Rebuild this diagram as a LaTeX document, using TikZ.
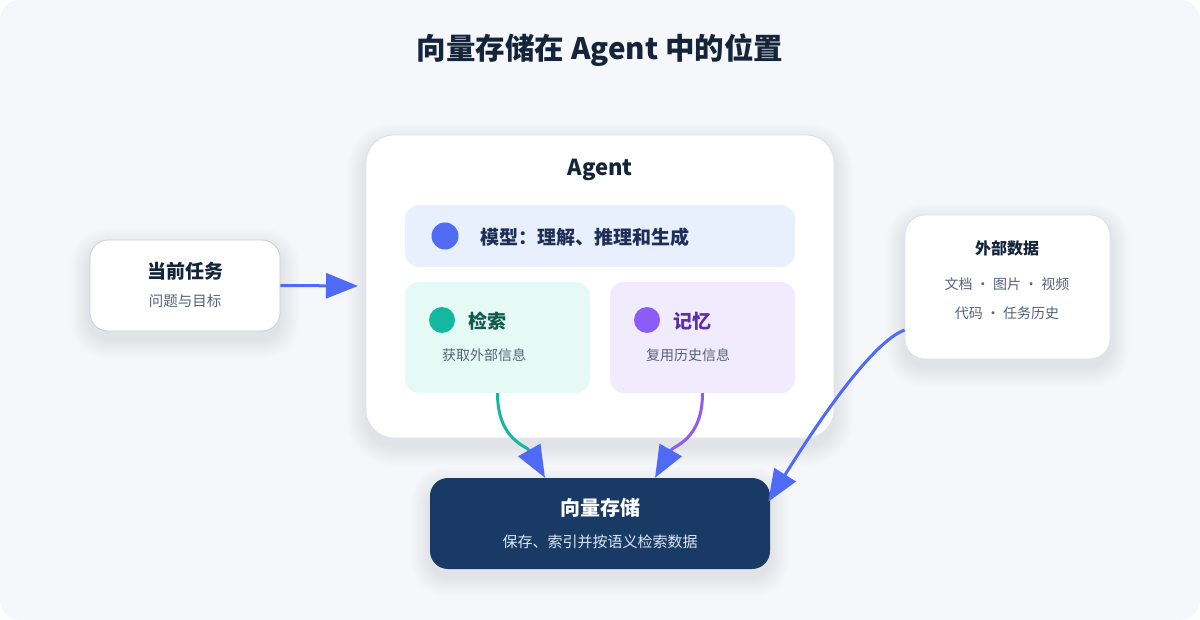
\documentclass[tikz,border=0pt]{standalone}
\usepackage{fontspec}
\setmainfont{Noto Sans CJK SC}
\usetikzlibrary{arrows.meta,calc}
\definecolor{bgc}{HTML}{F5F7FB}
\definecolor{ink}{HTML}{14243A}
\definecolor{subink}{HTML}{56627A}
\definecolor{ablue}{HTML}{4F6BF6}
\definecolor{ateal}{HTML}{14B8A0}
\definecolor{apurple}{HTML}{8B5CF6}
\definecolor{modelbg}{HTML}{E8EFFD}
\definecolor{retbg}{HTML}{E6FAF5}
\definecolor{membg}{HTML}{F1EBFE}
\definecolor{navy}{HTML}{183A64}
\definecolor{modelink}{HTML}{1E2F57}
\definecolor{retink}{HTML}{0F5A4E}
\definecolor{memink}{HTML}{5B2FA6}
\definecolor{vsub}{HTML}{DCE6F5}
\definecolor{edge}{HTML}{DDE2EA}
\pgfdeclarelayer{base}
\pgfdeclarelayer{shade}
\pgfsetlayers{base,shade,main}
\tikzset{
  card/.style={draw=edge, line width=0.8pt, fill=white, rounded corners=#1},
  panel/.style={fill=#1, rounded corners=14pt, inner sep=0pt},
  dot/.style={circle, fill=#1, minimum size=27pt, inner sep=0pt},
  head/.style={font=\fontsize{19}{21}\selectfont\bfseries, inner sep=0pt},
  sub/.style={font=\fontsize{14}{16}\selectfont, text=subink, inner sep=0pt},
  flow/.style={line width=3pt, -{Triangle[length=32pt,width=25pt,color=ablue]}},
  shadowlayer/.style={fill=black, opacity=0.007},
}
% soft shadow behind a named node: #1 node, #2 corner radius
\newcommand{\softshade}[2]{%
  \begin{pgfonlayer}{shade}
  \foreach \r in {1,3,...,19}{
    \fill[shadowlayer, rounded corners=#2+\r]
      ($(#1.north west)+(-\r,-\r+8)$) rectangle ($(#1.south east)+(\r,\r+8)$);
  }
  \end{pgfonlayer}}
\begin{document}
\begin{tikzpicture}[x=1pt,y=-1pt]
\useasboundingbox (0,0) rectangle (1200,620);
\begin{pgfonlayer}{base}
\fill[white] (0,0) rectangle (1200,620);
\fill[bgc, rounded corners=20pt] (0,0) rectangle (1200,620);
\end{pgfonlayer}

% title
\node[font=\fontsize{29.5}{32}\selectfont\bfseries, text=ink] (title) at (600,50) {向量存储在 Agent 中的位置};

% agent container
\node[card=28pt, minimum width=468pt, minimum height=303pt] (agent) at (600,286.5) {};
\softshade{agent}{28pt}
\node[font=\fontsize{22}{24}\selectfont\bfseries, text=ink] (agentlbl) at (600,170) {Agent};

% model panel
\node[panel=modelbg, minimum width=390pt, minimum height=62pt] (model) at (600,236) {};
\node[dot=ablue] (mdot) at (445,236) {};
\node[head, text=modelink, anchor=west] (mtext) at (480,237) {模型：理解、推理和生成};

% retrieval panel
\node[panel=retbg, minimum width=185pt, minimum height=111pt] (ret) at (497.5,337.5) {};
\node[dot=ateal, minimum size=26pt] (rdot) at (442,320) {};
\node[head, text=retink, anchor=west] (rtext) at (468,321) {检索};
\node[sub] (rsub) at (484,355) {获取外部信息};

% memory panel
\node[panel=membg, minimum width=185pt, minimum height=111pt] (mem) at (702.5,337.5) {};
\node[dot=apurple, minimum size=26pt] (memdot) at (647,320) {};
\node[head, text=memink, anchor=west] (memtext) at (673,321) {记忆};
\node[sub] (memsub) at (688,355) {复用历史信息};

% current task
\node[card=18pt, draw=edge!80!gray, minimum width=190pt, minimum height=91pt] (task) at (185,285.5) {};
\softshade{task}{18pt}
\node[head, text=ink] (tasklbl) at (185,271) {当前任务};
\node[sub, font=\fontsize{14.5}{16}\selectfont] (tasksub) at (185,301) {问题与目标};

% external data
\node[card=20pt, minimum width=205pt, minimum height=144pt] (ext) at (1007.5,287) {};
\softshade{ext}{20pt}
\node[font=\fontsize{16}{18}\selectfont\bfseries, text=ink, inner sep=0pt] (extlbl) at (1007,248) {外部数据};
\node[font=\fontsize{14}{16}\selectfont, text=subink, inner sep=0pt] (ext1) at (1007,284) {文档 · 图片 · 视频};
\node[font=\fontsize{14}{16}\selectfont, text=subink, inner sep=0pt] (ext2) at (1007,313) {代码 · 任务历史};

% vector store
\node[fill=navy, rounded corners=18pt, minimum width=340pt, minimum height=91pt] (vec) at (600,523.5) {};
\softshade{vec}{18pt}
\node[font=\fontsize{20}{22}\selectfont\bfseries, text=white, inner sep=0pt] (veclbl) at (600,508) {向量存储};
\node[font=\fontsize{15}{17}\selectfont, text=vsub, inner sep=0pt] (vecsub) at (600,542) {保存、索引并按语义检索数据};

% connectors
\coordinate (taskout) at (task.east);
\coordinate (agentin) at (358,286);
\draw[flow, ablue] (taskout) -- (agentin);

\coordinate (vin1) at ([xshift=-55pt]vec.north);
\coordinate (vin2) at ([xshift=55pt]vec.north);
\coordinate (vin3) at ([xshift=-2pt,yshift=-24pt]vec.north east);
\coordinate (extout) at ([yshift=-43pt]ext.west);

\draw[flow, ateal] (ret.south) .. controls ++(0,47) and (527,446) .. (vin1);
\draw[flow, apurple] (mem.south) .. controls ++(0,47) and (673,446) .. (vin2);
\draw[flow, ablue] (extout) .. controls (872,342) and (818,422) .. (vin3);
\end{tikzpicture}
\end{document}
